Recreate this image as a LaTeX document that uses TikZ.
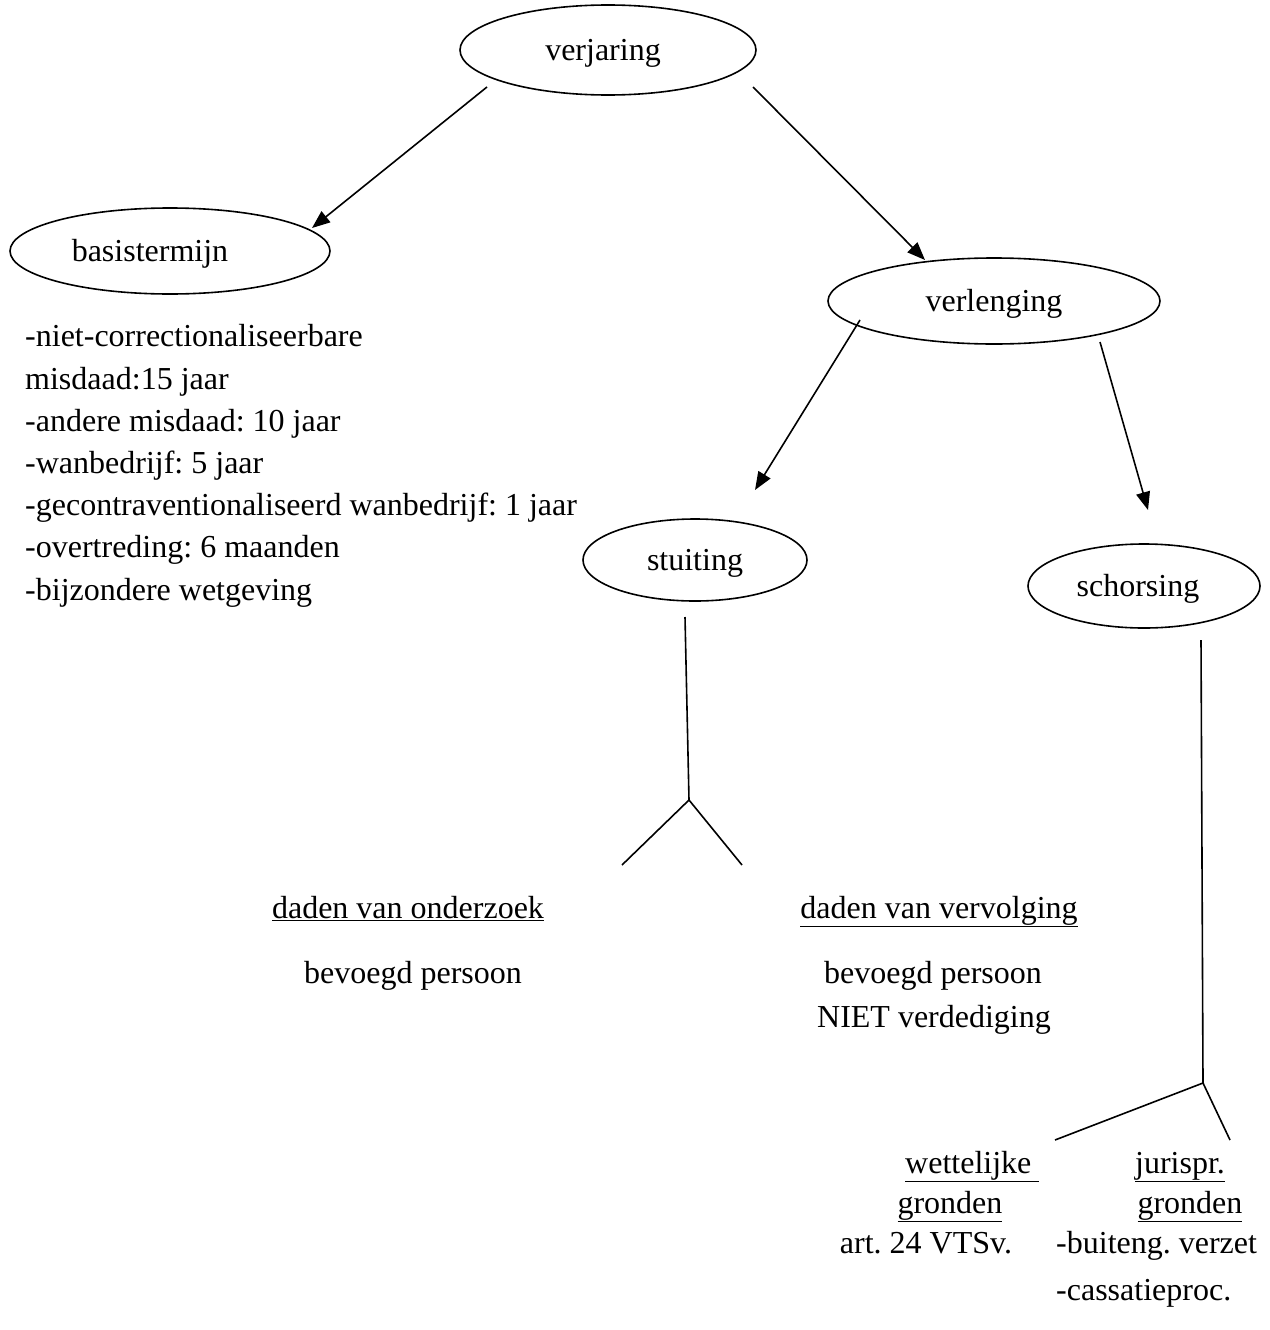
\documentclass[tikz,border=0pt]{standalone}
\usepackage{fontspec}
\setmainfont{Liberation Serif}
\frenchspacing
\usetikzlibrary{shapes.geometric,arrows.meta}
\newcommand{\ovaltext}[2][0pt]{\raisebox{-3pt}[\height][\depth]{\hspace*{#1}#2}}
\begin{document}
\begin{tikzpicture}[x=1pt,y=-1pt,
  every node/.style={font=\fontsize{32}{42.2}\selectfont},
  oval/.style={draw,ellipse,inner sep=0pt,line width=1.6pt},
  conn/.style={line width=1.6pt,-{Triangle[length=18pt,width=14pt]}},
  stem/.style={line width=1.6pt},
  txt/.style={inner sep=0pt}]
\useasboundingbox (0,0) rectangle (1269,1330);
% ovals
\node[oval,minimum width=296pt,minimum height=90pt] (verj) at (608,50) {\ovaltext[-10pt]{verjaring}};
\node[oval,minimum width=320pt,minimum height=86pt] (basis) at (170,251) {\ovaltext[-40pt]{basistermijn}};
\node[oval,minimum width=332pt,minimum height=86pt] (verl) at (994,301) {\ovaltext{verlenging}};
\node[oval,minimum width=224pt,minimum height=82pt] (stuit) at (695,560) {\ovaltext{stuiting}};
\node[oval,minimum width=232pt,minimum height=84pt] (schors) at (1144,586) {\ovaltext[-12pt]{schorsing}};
% arrow end points
\coordinate (a1s) at (487,87);  \coordinate (a1e) at (312,228);
\coordinate (a2s) at (753,87);  \coordinate (a2e) at (925,260);
\coordinate (a3s) at (860,320); \coordinate (a3e) at (755,490);
\coordinate (a4s) at (1100,342); \coordinate (a4e) at (1148,510);
\draw[conn] (a1s) -- (a1e);
\draw[conn] (a2s) -- (a2e);
\draw[conn] (a3s) -- (a3e);
\draw[conn] (a4s) -- (a4e);
% forks
\coordinate (s1) at (685,617); \coordinate (s2) at (689,800);
\coordinate (s3) at (622,865); \coordinate (s4) at (742,865);
\draw[stem] (s1) -- (s2) -- (s3);
\draw[stem] (s2) -- (s4);
\coordinate (t1) at (1201,640); \coordinate (t2) at (1203,1083);
\coordinate (t3) at (1055,1140); \coordinate (t4) at (1230,1140);
\draw[stem] (t1) -- (t2) -- (t3);
\draw[stem] (t2) -- (t4);
% left list
\node[txt,align=left,anchor=base west] (list) at (25,600) {-niet-correctionaliseerbare\\
misdaad:15 jaar\\
-andere misdaad: 10 jaar\\
-wanbedrijf: 5 jaar\\
-gecontraventionaliseerd wanbedrijf: 1 jaar\\
-overtreding: 6 maanden\\
-bijzondere wetgeving};
% middle texts
\node[txt,anchor=base] (dvo) at (408,918) {\underline{daden van onderzoek}};
\node[txt,anchor=base] (bp1) at (413,983) {bevoegd persoon};
\node[txt,anchor=base] (dvv) at (939,918) {\underline{daden van vervolging}};
\node[txt,anchor=base] (bp2) at (933,983) {bevoegd persoon};
\node[txt,anchor=base] (niet) at (934,1027) {NIET verdediging};
% bottom right
\node[txt,anchor=base west] (wet) at (905,1173) {\underline{wettelijke\ }};
\node[txt,anchor=base] (gr1) at (950,1213) {\underline{gronden}};
\node[txt,anchor=base] (art) at (926,1253) {art. 24 VTSv.};
\node[txt,anchor=base] (jur) at (1180,1173) {\underline{jurispr.}};
\node[txt,anchor=base] (gr2) at (1190,1213) {\underline{gronden}};
\node[txt,anchor=base west] (bv) at (1056,1253) {-buiteng. verzet};
\node[txt,anchor=base west] (cp) at (1056,1300) {-cassatieproc.};
\end{tikzpicture}
\end{document}
